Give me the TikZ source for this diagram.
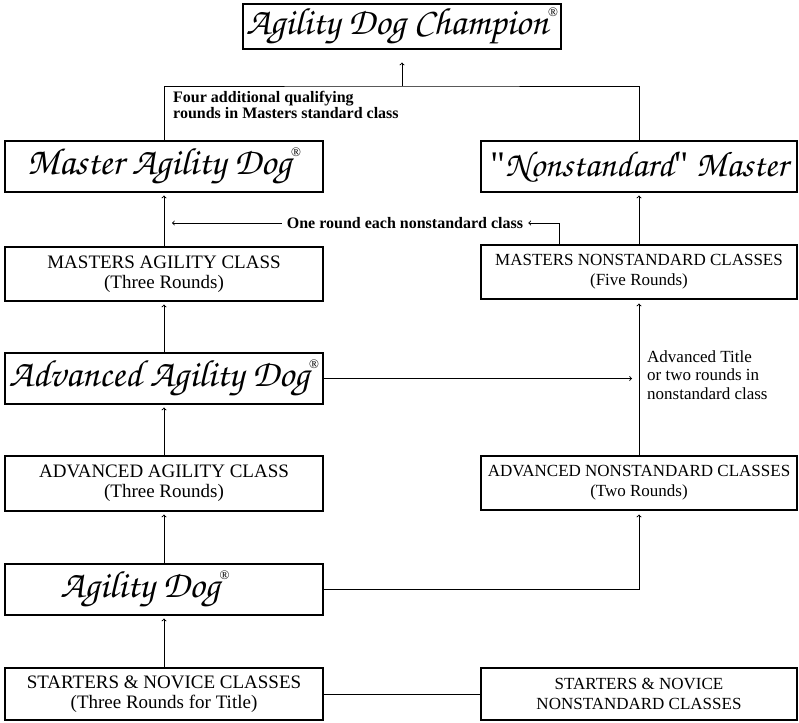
\documentclass[tikz,border=0pt]{standalone}
\usepackage[T1]{fontenc}
\usepackage{fontspec}
\setmainfont{Liberation Serif}
\newfontfamily\plainserif{Liberation Serif}

\newcommand{\chancery}{\fontencoding{T1}\fontfamily{pzc}\fontseries{mb}\fontshape{it}\fontsize{38}{42}\selectfont}
\newcommand{\regmark}{\raisebox{18pt}{\normalfont\fontsize{13}{13}\selectfont\textregistered}}

\begin{document}
\begin{tikzpicture}[x=1pt, y=-1pt,
  titlebox/.style={draw, line width=1.1pt, minimum width=318pt, minimum height=51pt, inner sep=0pt, font=\chancery},
  leftbox/.style={draw, line width=1.1pt, minimum width=318pt, minimum height=54pt, inner sep=0pt, align=center, font=\fontsize{19}{20}\selectfont},
  rightbox/.style={draw, line width=1.1pt, minimum width=316pt, minimum height=54pt, inner sep=0pt, align=center, font=\fontsize{17}{20}\selectfont},
  note/.style={font=\bfseries\fontsize{16}{16}\selectfont, align=left, inner sep=0pt},
  flow/.style={line width=0.9pt, ->}]

\useasboundingbox (0,0) rectangle (799,722);

\coordinate (join) at (402,86);
\coordinate (bend) at (559,223);
\coordinate (advtip) at (632,378.5);

\node [titlebox, minimum height=45pt] (champ) at (402,26.5) {Agility Dog Champion\regmark};
\node [titlebox] (mad) at (164,166.5) {Master Agility Dog\regmark};
\node [titlebox, minimum width=316pt, font=\chancery\fontsize{36}{40}\selectfont] (nsm) at (639,166.5) {{\plainserif"}Nonstandard{\plainserif"} Master};
\node [leftbox] (mac) at (164,274) {MASTERS AGILITY CLASS\\(Three Rounds)};
\node [rightbox] (mnc) at (639,272) {MASTERS NONSTANDARD CLASSES\\(Five Rounds)};
\node [titlebox] (aad) at (164,378.5) {Advanced Agility Dog\regmark};
\node [leftbox, minimum height=55pt] (aac) at (164,483.5) {ADVANCED AGILITY CLASS\\(Three Rounds)};
\node [rightbox] (anc) at (639,483) {ADVANCED NONSTANDARD CLASSES\\(Two Rounds)};
\node [titlebox] (ad) at (164,589.5) {Agility Dog\regmark\kern38pt\relax};
\node [leftbox, minimum height=52pt] (snc) at (164,694) {STARTERS \& NOVICE CLASSES\\(Three Rounds for Title)};
\node [rightbox, minimum height=52pt] (snnc) at (639,694) {STARTERS \& NOVICE\\NONSTANDARD CLASSES};

\node [note, anchor=north west] (four) at (173,91) {Four additional qualifying\\rounds in Masters standard class};
\node [note, inner xsep=5pt] (oneround) at (405,223) {One round each nonstandard class};
\node [font=\fontsize{17}{18.5}\selectfont, align=left, anchor=west, inner sep=0pt] (advnote) at (647,375) {Advanced Title\\or two rounds in\\nonstandard class};

\draw [line width=0.9pt] (mad.north) |- (join) -| (nsm.north);
\draw [flow, shorten >=13pt] (join) -- (champ.south);
\draw [flow, shorten >=3pt] (mac.north) -- (mad.south);
\draw [flow, shorten >=3pt] (mnc.north) -- (nsm.south);
\draw [flow] (mnc.north -| bend) -- (bend) -- (oneround.east);
\draw [flow, shorten >=8pt] (oneround.west) -- (oneround.west -| mac.north);
\draw [flow, shorten >=3pt] (aad.north) -- (mac.south);
\draw [flow] (aad.east) -- (advtip);
\draw [flow, shorten >=4pt] (anc.north) -- (mnc.south);
\draw [flow, shorten >=3pt] (aac.north) -- (aad.south);
\draw [flow, shorten >=3pt] (ad.north) -- (aac.south);
\draw [flow, shorten >=4pt] (ad.east) -| (anc.south);
\draw [flow, shorten >=3pt] (snc.north) -- (ad.south);
\draw [line width=0.9pt] (snc.east) -- (snnc.west);

\end{tikzpicture}
\end{document}
